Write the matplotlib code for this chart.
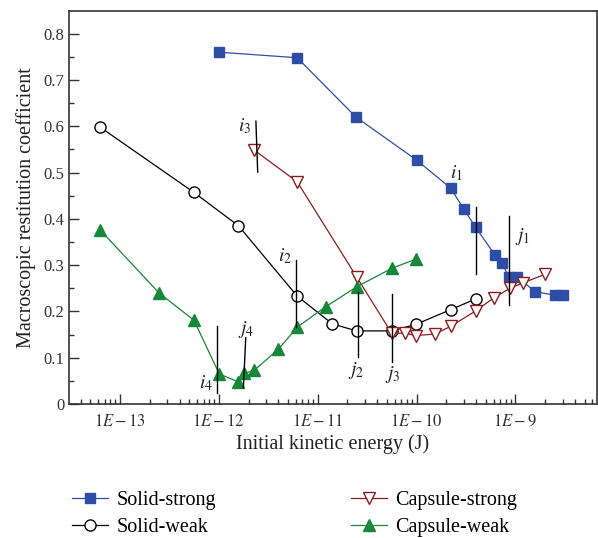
import matplotlib
matplotlib.use("Agg")
import matplotlib.pyplot as plt
from matplotlib.ticker import LogLocator, FixedLocator, NullFormatter

plt.rcParams['font.family'] = ['Liberation Serif', 'DejaVu Serif']
plt.rcParams['mathtext.fontset'] = 'stix'

# solid-strong (blue squares)
ss_x = [1.0e-12, 6.2e-12, 2.43e-11, 1.0e-10, 2.22e-10, 3.0e-10, 3.95e-10,
        6.2e-10, 7.3e-10, 8.6e-10, 1.04e-9, 1.57e-9, 2.5e-9, 3.0e-9]
ss_y = [0.76, 0.748, 0.62, 0.527, 0.466, 0.421, 0.382,
        0.322, 0.304, 0.274, 0.275, 0.243, 0.235, 0.235]

# solid-weak (open circles)
sw_x = [6.3e-14, 5.6e-13, 1.58e-12, 6.2e-12, 1.41e-11, 2.47e-11, 5.6e-11,
        9.8e-11, 2.22e-10, 3.95e-10]
sw_y = [0.598, 0.457, 0.385, 0.233, 0.173, 0.158, 0.158, 0.172, 0.204, 0.227]

# capsule-strong (open down triangles)
cs_x = [2.26e-12, 6.2e-12, 2.47e-11, 5.6e-11, 7.6e-11, 9.8e-11, 1.53e-10,
        2.22e-10, 3.95e-10, 6.1e-10, 8.8e-10, 1.2e-9, 1.98e-9]
cs_y = [0.549, 0.480, 0.275, 0.153, 0.153, 0.148, 0.151,
        0.168, 0.201, 0.23, 0.25, 0.262, 0.28]

# capsule-weak (green triangles)
cw_x = [6.3e-14, 2.48e-13, 5.6e-13, 1.01e-12, 1.57e-12, 1.81e-12, 2.28e-12,
        3.99e-12, 6.2e-12, 1.2e-11, 2.47e-11, 5.6e-11, 9.8e-11]
cw_y = [0.376, 0.24, 0.181, 0.065, 0.048, 0.066, 0.073,
        0.118, 0.166, 0.21, 0.253, 0.293, 0.313]

# marker lines: name, x top, x bottom, y top, y bottom, label x, label y
marks = [
    ("i_1", 3.98e-10, 3.98e-10, 0.426, 0.281, 2.54e-10, 0.499),
    ("j_1", 8.57e-10, 8.57e-10, 0.406, 0.214, 1.18e-9, 0.361),
    ("i_2", 6.0e-12, 6.0e-12, 0.311, 0.166, 4.66e-12, 0.32),
    ("j_2", 2.57e-11, 2.57e-11, 0.243, 0.102, 2.47e-11, 0.073),
    ("i_3", 2.37e-12, 2.47e-12, 0.611, 0.501, 1.84e-12, 0.60),
    ("j_3", 5.7e-11, 5.7e-11, 0.238, 0.091, 5.7e-11, 0.063),
    ("i_4", 9.5e-13, 9.5e-13, 0.168, 0.024, 7.4e-13, 0.045),
    ("j_4", 1.87e-12, 1.77e-12, 0.143, 0.035, 1.9e-12, 0.16),
]

decades = [1e-13, 1e-12, 1e-11, 1e-10, 1e-9]
decade_labels = ["$1E-13$", "$1E-12$", "$1E-11$", "$1E-10$", "$1E-9$"]

blue = "#2e4ea6"
red = "#8c1c1c"
green = "#17873a"

fig = plt.figure(figsize=(5.98, 5.38), dpi=100)
ax = fig.add_axes([0.1154, 0.249, 0.8826, 0.7306])

ax.plot(ss_x, ss_y, '-s', color=blue, lw=0.9, ms=6.5, mfc=blue, mec=blue,
        label="Solid-strong")
ax.plot(sw_x, sw_y, '-o', color='black', lw=0.9, ms=8, mfc='white', mec='black',
        mew=1.0, label="Solid-weak")
ax.plot(cs_x, cs_y, '-v', color=red, lw=0.9, ms=8.5, mfc='white', mec=red,
        mew=1.0, label="Capsule-strong")
ax.plot(cw_x, cw_y, '-^', color=green, lw=0.9, ms=8.5, mfc=green, mec=green,
        label="Capsule-weak")

for name, xt, xb, yt, yb, lx, ly in marks:
    ax.plot([xt, xb], [yt, yb], color='black', lw=1.0)
    ax.text(lx, ly, "$" + name + "$", ha='center', va='center', fontsize=14,
            color='#222222')

ax.set_xscale('log')
ax.set_xlim(3.05e-14, 6.65e-9)
ax.set_ylim(0, 0.849)

ax.xaxis.set_major_locator(FixedLocator(decades))
ax.set_xticklabels(decade_labels)
ax.xaxis.set_minor_locator(LogLocator(base=10, subs=range(2, 10), numticks=20))
ax.xaxis.set_minor_formatter(NullFormatter())

ax.set_yticks([0, 0.1, 0.2, 0.3, 0.4, 0.5, 0.6, 0.7, 0.8])
ax.set_yticklabels(["0", "0.1", "0.2", "0.3", "0.4", "0.5", "0.6", "0.7", "0.8"])
ax.set_yticks([0.05, 0.15, 0.25, 0.35, 0.45, 0.55, 0.65, 0.75], minor=True)

ax.tick_params(which='major', direction='in', length=7, width=1.0,
               labelsize=12, colors='#333333')
ax.tick_params(which='minor', direction='in', length=3.5, width=1.0,
               colors='#333333')
ax.tick_params(axis='x', pad=7)
for s in ax.spines.values():
    s.set_color('#333333')
    s.set_linewidth(1.2)

ax.set_xlabel("Initial kinetic energy (J)", fontsize=14.5, color='#222222',
              labelpad=3)
ax.set_ylabel("Macroscopic restitution coefficient", fontsize=14.5,
              color='#222222', labelpad=5)

fig.legend(loc='upper left', bbox_to_anchor=(72 / 598, 1 - 491 / 538), ncol=2,
           frameon=False, fontsize=14.5, columnspacing=6.7, handlelength=1.8,
           labelspacing=0.4, handletextpad=0.4, borderpad=0, borderaxespad=0)

fig.savefig("out.png", dpi=100)
